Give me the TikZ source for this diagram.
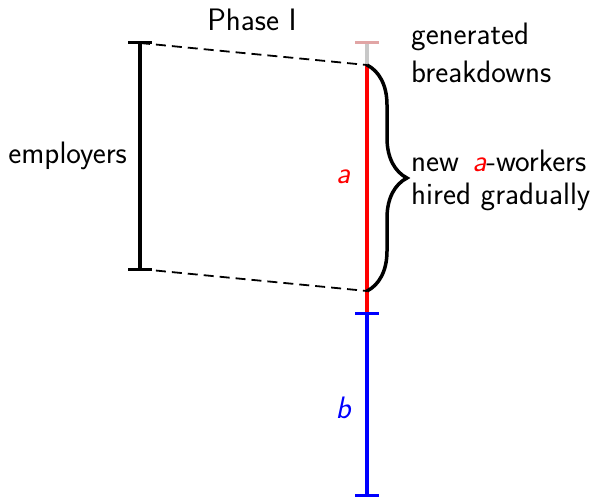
\documentclass[tikz,border=0pt]{standalone}
\usetikzlibrary{decorations.pathreplacing,calc}
\definecolor{capred}{RGB}{225,165,165}
\definecolor{lgray}{RGB}{200,200,200}
\begin{document}
\begin{tikzpicture}[x=1pt,y=1pt,
  txt/.style={font=\fontsize{31}{37}\selectfont\sffamily, inner sep=0pt},
  bar/.style={line width=4pt},
  tick/.style={line width=3pt},
  dashline/.style={line width=1.8pt, dash pattern=on 10pt off 6pt}]
\useasboundingbox (0,0) rectangle (593,-497);
% coordinates
\coordinate (gtop) at (367,-43);
\coordinate (rtop) at (367,-65);
\coordinate (rbot) at (367,-291);
\coordinate (btop) at (367,-313);
\coordinate (bbot) at (367,-495);
\coordinate (etop) at (140,-43);
\coordinate (ebot) at (140,-269);
% gray segment
\draw[bar, lgray] (gtop) -- (rtop);
\draw[tick, capred] ($(gtop)+(-12,0)$) -- ($(gtop)+(12,0)$);
% red segment
\draw[bar, red] (rtop) -- (btop);
% blue segment
\draw[bar, blue] (btop) -- (bbot);
\draw[tick, blue] ($(btop)+(-12,0)$) -- ($(btop)+(12,0)$);
\draw[tick, blue] ($(bbot)+(-12,0)$) -- ($(bbot)+(12,0)$);
% employers bracket
\draw[line width=3.2pt] (etop) -- (ebot);
\draw[tick] ($(etop)+(-12,0)$) -- ($(etop)+(12,0)$);
\draw[tick] ($(ebot)+(-12,0)$) -- ($(ebot)+(12,0)$);
% dashed lines
\draw[dashline] (etop) -- (rtop);
\draw[dashline] (ebot) -- (rbot);
% brace
\draw[line width=3.5pt, decorate, decoration={brace, amplitude=40pt}] (rtop) -- (rbot);
% labels
\node[txt] (phase) at (252,-20) {Phase I};
\node[txt, anchor=base west] (gen1) at (411,-45) {generated};
\node[txt, anchor=base west] (gen2) at (411,-83) {breakdowns};
\node[txt, anchor=east] (emp) at (127,-156) {employers};
\node[txt, red] (la) at (343,-177) {\itshape a};
\node[txt, blue] (lb) at (343,-408) {\itshape b};
\node[txt, anchor=base west] (new1) at (411,-171.5) {new\hspace{0.12em} {\color{red}\itshape a}-workers};
\node[txt, anchor=base west] (new2) at (411,-204) {hired gradually};
\end{tikzpicture}
\end{document}
